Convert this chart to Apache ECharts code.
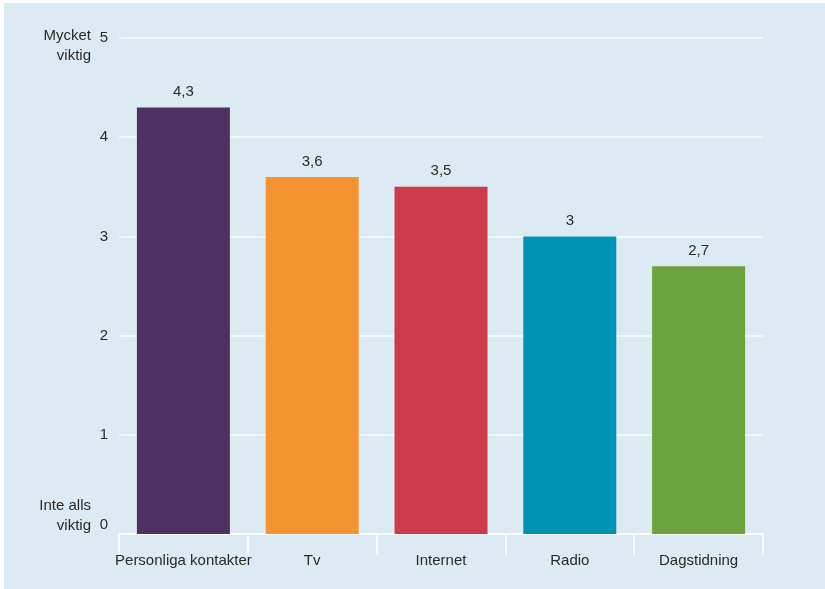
<!DOCTYPE html>
<html>
<head>
<meta charset="utf-8">
<script src="https://cdn.jsdelivr.net/npm/echarts@6/dist/echarts.min.js"></script>
<style>
html,body{margin:0;padding:0;background:#ffffff;width:825px;height:589px;overflow:hidden;}
#chart{position:absolute;left:4px;top:3px;width:821px;height:586px;}
</style>
</head>
<body>
<div id="chart"></div>
<script>
const categories = ['Personliga kontakter', 'Tv', 'Internet', 'Radio', 'Dagstidning'];
const values = [4.3, 3.6, 3.5, 3.0, 2.7];
const barColors = ['#4e3162', '#f39430', '#cc3a4c', '#0093b5', '#6ba43e'];
const yTicks = [0, 1, 2, 3, 4, 5];
const topWords = 'Mycket\nviktig';
const bottomWords = 'Inte alls\nviktig';

const textColor = '#2d2a22';
const font = 'Liberation Sans, Arial, sans-serif';
const fs = 15;

const chart = echarts.init(document.getElementById('chart'), null, {renderer: 'canvas'});
chart.setOption({
  backgroundColor: '#dceaf3',
  animation: false,
  grid: {left: 115, right: 62, top: 35, bottom: 55, containLabel: false},
  xAxis: {
    type: 'category',
    data: categories,
    axisLine: {show: true, lineStyle: {color: '#ffffff', width: 1.5}},
    axisTick: {show: true, length: 21, lineStyle: {color: '#ffffff', width: 1.5}},
    axisLabel: {color: textColor, fontSize: fs, fontFamily: font, margin: 19, interval: 0}
  },
  yAxis: {
    type: 'value',
    min: yTicks[0],
    max: yTicks[yTicks.length - 1],
    interval: 1,
    axisLine: {show: false},
    axisTick: {show: false},
    splitLine: {lineStyle: {color: '#f2f7fa', width: 2}},
    axisLabel: {
      color: textColor, fontSize: fs, fontFamily: font, margin: 11,
      formatter: function (v) {
        if (v === yTicks[0]) return '{z|' + v + '}';
        return String(v);
      },
      rich: {z: {fontSize: fs, fontFamily: font, color: textColor, padding: [0, 0, 18, 0]}}
    }
  },
  graphic: [
    {type: 'text', x: 87, y: 23, style: {text: topWords, align: 'right', verticalAlign: 'top', font: fs + 'px ' + font, fill: textColor, lineHeight: 20}},
    {type: 'text', x: 87, y: 493, style: {text: bottomWords, align: 'right', verticalAlign: 'top', font: fs + 'px ' + font, fill: textColor, lineHeight: 20}}
  ],
  series: [{
    type: 'bar',
    data: values.map((v, i) => ({value: v, itemStyle: {color: barColors[i]}})),
    barWidth: 93,
    label: {
      show: true, position: 'top', distance: 8,
      color: textColor, fontSize: fs, fontFamily: font,
      formatter: p => String(p.value).replace('.', ',')
    }
  }]
});
</script>
</body>
</html>
